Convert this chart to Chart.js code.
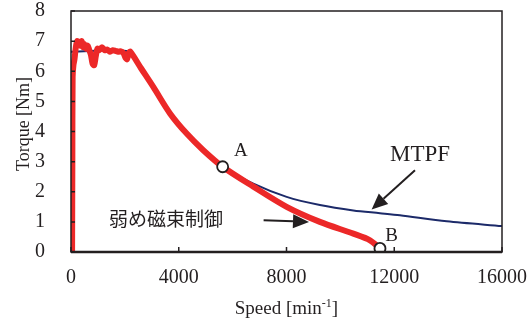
<!DOCTYPE html>
<html>
<head>
<meta charset="utf-8">
<script src="https://cdn.jsdelivr.net/npm/chart.js@4"></script>
<style>
  html, body { margin: 0; padding: 0; background: #fff; }
  #wrap { width: 532px; height: 327px; }
</style>
</head>
<body>
<div id="wrap"><canvas id="torque"></canvas></div>
<script>
// weak field control (red)
const speedWeak = [40, 50, 60, 90, 130, 180, 230, 300, 350, 400, 450, 500, 560, 620, 680, 740, 800, 860, 920, 980,
    1050, 1150, 1250, 1350, 1450, 1550, 1650, 1750, 1850, 1950, 2020, 2080, 2140, 2200,
    2600, 3055, 3675, 4295, 4910, 5630, 6770, 8005, 9240, 10480, 11100, 11470];
const torqueWeak = [0, 3, 5.8, 6.2, 6.4, 6.8, 7.0, 6.95, 6.85, 7.0, 6.8, 6.9, 6.75, 6.85, 6.7, 6.55, 6.25, 6.2, 6.5, 6.75,
    6.7, 6.8, 6.7, 6.72, 6.65, 6.7, 6.68, 6.65, 6.66, 6.6, 6.45, 6.4, 6.6, 6.65,
    6.1, 5.48, 4.6, 3.93, 3.38, 2.83, 2.17, 1.5, 1.0, 0.61, 0.39, 0.12];

// MTPF (blue)
const speedMtpf = [0, 2200, 2600, 3055, 3675, 4295, 4910, 5630, 6770, 8005, 9240, 10480, 11470, 12210, 13950, 16000];
const torqueMtpf = [6.65, 6.65, 6.1, 5.48, 4.6, 3.93, 3.38, 2.83, 2.27, 1.83, 1.56, 1.38, 1.29, 1.22, 1.02, 0.86];

// marked points
const markNames = ['A', 'B'];
const markSpeed = [5630, 11470];
const markTorque = [2.83, 0.12];

const xTicks = [0, 4000, 8000, 12000, 16000];
const yTicks = [0, 1, 2, 3, 4, 5, 6, 7, 8];

const ink = '#231f20';
const serif = '"Liberation Serif", "Times New Roman", serif';

const toXY = (xs, ys) => xs.map((x, i) => ({x: x, y: ys[i]}));

// text labels and arrows, in data units
const notes = [
    {text: markNames[0], x: 6310, y: 3.34, font: '19px ' + serif},
    {text: markNames[1], x: 11900, y: 0.52, font: '19px ' + serif},
    {text: 'MTPF', x: 12955, y: 3.21, font: '23px ' + serif},
    {text: '弱め磁束制御', x: 3526, y: 1.09, font: '19px "Noto Sans CJK JP", sans-serif'}
];
const arrows = [
    {from: [7150, 1.05], to: [8835, 1.0]},
    {from: [12770, 2.71], to: [11160, 1.41]}
];

const frame = {
    id: 'frame',
    afterDraw(chart) {
        const {ctx, chartArea: a, scales: {x, y}} = chart;
        ctx.save();
        ctx.strokeStyle = ink;
        ctx.lineWidth = 1.5;
        ctx.strokeRect(a.left, a.top, a.right - a.left, a.bottom - a.top);
        ctx.lineWidth = 2.5;
        ctx.beginPath();
        ctx.moveTo(a.left, a.bottom);
        ctx.lineTo(a.right, a.bottom);
        ctx.stroke();

        // inward tick marks
        ctx.lineWidth = 1.5;
        ctx.beginPath();
        xTicks.forEach(v => {
            const px = x.getPixelForValue(v);
            ctx.moveTo(px, a.bottom);
            ctx.lineTo(px, a.bottom - 5);
        });
        yTicks.forEach(v => {
            const py = y.getPixelForValue(v);
            ctx.moveTo(a.left, py);
            ctx.lineTo(a.left + 4, py);
        });
        ctx.stroke();

        // axis titles
        ctx.fillStyle = ink;
        ctx.textBaseline = 'middle';
        ctx.textAlign = 'center';
        ctx.save();
        ctx.translate(24, 124);
        ctx.rotate(-Math.PI / 2);
        ctx.font = '18px ' + serif;
        ctx.fillText('Torque [Nm]', 0, 0);
        ctx.restore();

        const base = 314;
        const parts = [['Speed [min', '19px ' + serif, 0], ['-1', '12px ' + serif, -7], [']', '19px ' + serif, 0]];
        let total = 0;
        parts.forEach(p => { ctx.font = p[1]; total += ctx.measureText(p[0]).width; });
        let cx = (a.left + a.right) / 2 - total / 2;
        ctx.textAlign = 'left';
        ctx.textBaseline = 'alphabetic';
        parts.forEach(p => {
            ctx.font = p[1];
            ctx.fillText(p[0], cx, base + p[2]);
            cx += ctx.measureText(p[0]).width;
        });

        // notes
        ctx.textAlign = 'center';
        ctx.textBaseline = 'middle';
        notes.forEach(n => {
            ctx.font = n.font;
            ctx.fillText(n.text, x.getPixelForValue(n.x), y.getPixelForValue(n.y));
        });

        // arrows
        arrows.forEach(ar => {
            const x0 = x.getPixelForValue(ar.from[0]), y0 = y.getPixelForValue(ar.from[1]);
            const x1 = x.getPixelForValue(ar.to[0]), y1 = y.getPixelForValue(ar.to[1]);
            const ang = Math.atan2(y1 - y0, x1 - x0);
            const len = 16, half = 7;
            const bx = x1 - len * Math.cos(ang), by = y1 - len * Math.sin(ang);
            ctx.lineWidth = 2;
            ctx.beginPath();
            ctx.moveTo(x0, y0);
            ctx.lineTo(bx, by);
            ctx.stroke();
            ctx.beginPath();
            ctx.moveTo(x1, y1);
            ctx.lineTo(bx + half * Math.sin(ang), by - half * Math.cos(ang));
            ctx.lineTo(bx - half * Math.sin(ang), by + half * Math.cos(ang));
            ctx.closePath();
            ctx.fill();
        });
        ctx.restore();
    }
};

const data = {
    datasets: [{
        label: 'points',
        data: toXY(markSpeed, markTorque),
        showLine: false,
        pointStyle: 'circle',
        pointRadius: 5.5,
        pointBackgroundColor: '#fff',
        pointBorderColor: ink,
        pointBorderWidth: 1.8
    }, {
        label: '弱め磁束制御',
        data: toXY(speedWeak, torqueWeak),
        showLine: true,
        borderColor: 'rgb(236, 40, 40)',
        borderWidth: 6,
        borderJoinStyle: 'round',
        pointRadius: 0,
        tension: 0.3
    }, {
        label: 'MTPF',
        data: toXY(speedMtpf, torqueMtpf),
        showLine: true,
        borderColor: 'rgb(28, 42, 105)',
        borderWidth: 2,
        pointRadius: 0,
        tension: 0.3
    }]
};

const options = {
    responsive: true,
    maintainAspectRatio: false,
    animation: false,
    layout: {padding: {left: 0, right: 30, top: 11, bottom: 0}},
    plugins: {legend: {display: false}, tooltip: {enabled: false}},
    scales: {
        x: {
            type: 'linear',
            min: 0,
            max: 16000,
            grid: {display: false},
            border: {display: false},
            afterBuildTicks: s => { s.ticks = xTicks.map(v => ({value: v})); },
            afterFit: s => { s.height = 75; s.paddingLeft = 0; s.paddingRight = 0; },
            ticks: {color: ink, padding: 6, font: {family: serif, size: 20}, maxRotation: 0, callback: v => String(v)}
        },
        y: {
            min: 0,
            max: 8,
            grid: {display: false},
            border: {display: false},
            afterBuildTicks: s => { s.ticks = yTicks.map(v => ({value: v})); },
            afterFit: s => { s.width = 71; s.paddingTop = 0; s.paddingBottom = 0; },
            ticks: {color: ink, padding: 18, font: {family: serif, size: 20}, callback: v => String(v)}
        }
    }
};

const chart = new Chart(document.getElementById('torque'), {
    type: 'scatter',
    data: data,
    options: options,
    plugins: [frame]
});
</script>
</body>
</html>
